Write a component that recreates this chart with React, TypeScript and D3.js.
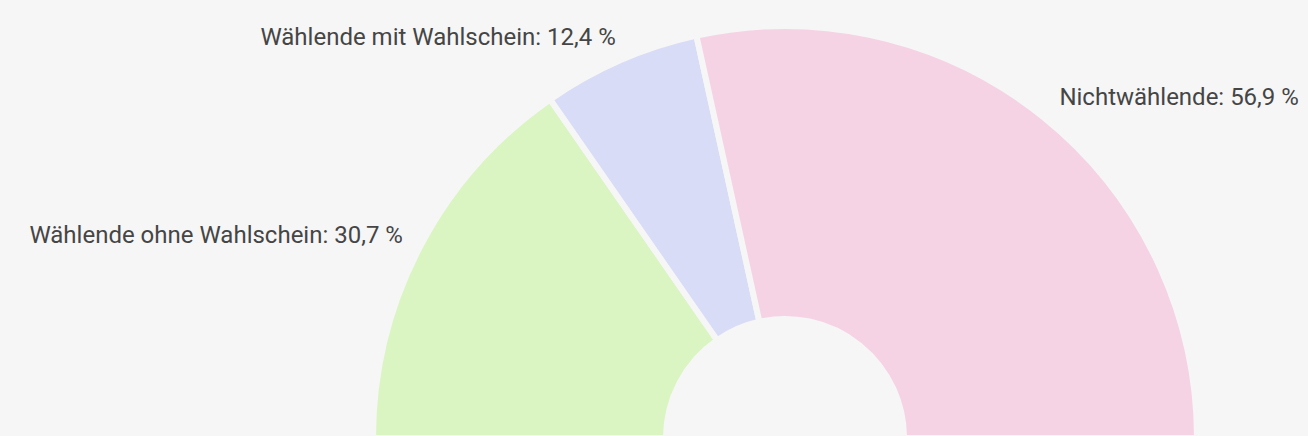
import React from "react";
import * as d3 from "d3";

const categories = ["Wählende ohne Wahlschein", "Wählende mit Wahlschein", "Nichtwählende"];
const values = [30.7, 12.4, 56.9];
const valueLabels = ["30,7 %", "12,4 %", "56,9 %"];
const colors = ["#daf5c2", "#d8dcf6", "#f5d3e4"];

const W = 1308;
const H = 436;
const BG = "#f6f6f6";

export default function App() {
  const cx = 785;
  const cy = 438;
  const outerR = 412;
  const innerR = 119;
  const labelR = 438;

  const pie = d3
    .pie<number>()
    .sort(null)
    .startAngle(-Math.PI / 2)
    .endAngle(Math.PI / 2)
    .padAngle(0);
  const arcs = pie(values);
  const arcGen = d3.arc<d3.PieArcDatum<number>>().innerRadius(innerR).outerRadius(outerR);

  return (
    <div style={{ position: "fixed", left: 0, top: 0, width: W, height: H, background: BG }}>
      <svg width={W} height={H} style={{ display: "block" }}>
        <rect width={W} height={H} fill={BG} />
        <g transform={`translate(${cx},${cy})`}>
          {arcs.map((a, i) => (
            <path key={i} d={arcGen(a) || ""} fill={colors[i]} stroke={BG} strokeWidth={6} strokeLinejoin="round" />
          ))}
          {arcs.map((a, i) => {
            const mid = (a.startAngle + a.endAngle) / 2;
            const x = labelR * Math.sin(mid);
            const y = -labelR * Math.cos(mid);
            const right = x > 0;
            return (
              <text
                key={"l" + i}
                x={x + (right ? 0 : 6)}
                y={y}
                dy="0.35em"
                textAnchor={right ? "start" : "end"}
                fontFamily="Roboto, 'Open Sans', sans-serif"
                fontSize={24}
                fill="#454545"
              >
                {`${categories[i]}: ${valueLabels[i]}`}
              </text>
            );
          })}
        </g>
      </svg>
    </div>
  );
}
